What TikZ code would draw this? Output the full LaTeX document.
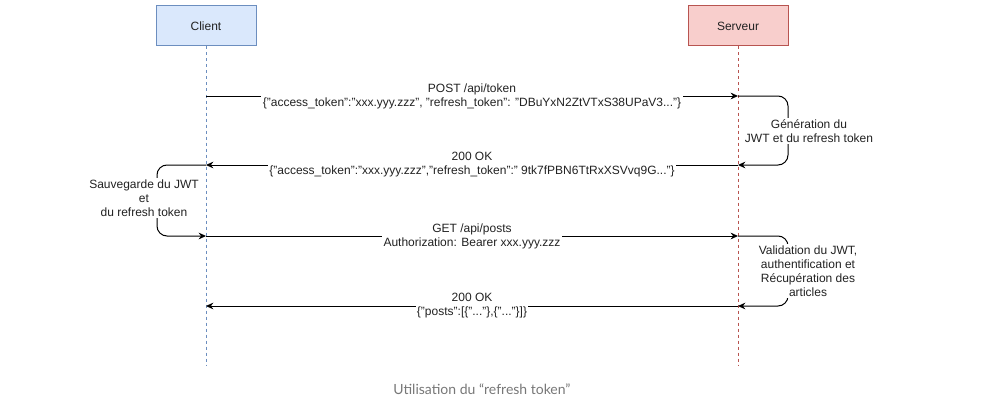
\documentclass[tikz,border=0pt]{standalone}
\usepackage{fontspec}
\setmainfont{Liberation Sans}
\newfontfamily\captionfont{Lato}
\usetikzlibrary{arrows.meta}
\definecolor{clientfill}{HTML}{DAE8FC}
\definecolor{clientline}{HTML}{6C8EBF}
\definecolor{serverfill}{HTML}{F8CECC}
\definecolor{serverline}{HTML}{B85450}
\definecolor{captiongray}{HTML}{777777}
\definecolor{labeltext}{HTML}{222222}
\tikzset{
    >={Stealth[length=5.5pt,width=5pt]},
    actor/.style={draw,rectangle,line width=0.75pt,minimum width=75pt,minimum height=30pt,text=labeltext,font=\fontsize{9}{10.5}\selectfont},
    lifeline/.style={dash pattern=on 2.25pt off 2.25pt,line width=0.75pt},
    msg/.style={->,line width=0.75pt},
    loopmsg/.style={->,line width=0.75pt,rounded corners=7.5pt},
    msglabel/.style={fill=white,align=center,text=labeltext,inner sep=1pt,font=\fontsize{9}{10.5}\selectfont},
}
\begin{document}
\begin{tikzpicture}[x=0.75pt,y=-0.75pt]
\useasboundingbox (0,0) rectangle (988,410);

% acteurs
\node[actor,fill=clientfill,draw=clientline] (client) at (206,26) {Client};
\node[actor,fill=serverfill,draw=serverline] (server) at (738,26) {Serveur};

% lignes de vie
\coordinate (clientend) at (206,365);
\coordinate (serverend) at (738,365);
\draw[lifeline,clientline] (client.south) -- (clientend);
\draw[lifeline,serverline] (server.south) -- (serverend);

% points sur les lignes de vie
\coordinate (c1) at (206,96);
\coordinate (s1) at (738,96);
\coordinate (s2) at (738,165);
\coordinate (c2) at (206,165);
\coordinate (c3) at (206,236);
\coordinate (s3) at (738,236);
\coordinate (s4) at (738,306);
\coordinate (c4) at (206,306);

% messages
\path (c1) edge[msg] node[msglabel] {POST /api/token\\\{"access\_token":"xxx.yyy.zzz", "refresh\_token": "DBuYxN2ZtVTxS38UPaV3..."\}} (s1)
      (s2) edge[msg] node[msglabel] {200 OK\\\{"access\_token":"xxx.yyy.zzz","refresh\_token":" 9tk7fPBN6TtRxXSVvq9G..."\}} (c2)
      (c3) edge[msg] node[msglabel] {GET /api/posts\\Authorization: Bearer xxx.yyy.zzz} (s3)
      (s4) edge[msg] node[msglabel] {200 OK\\\{"posts":[\{"..."\},\{"..."\}]\}} (c4);

% traitements
\draw[loopmsg] (s1) -- ++(50,0) -- ++(0,69) -- (s2);
\node[msglabel] (generation) at (809,131) {Génération du\\JWT et du refresh token};

\draw[loopmsg] (c2) -- ++(-49,0) -- ++(0,71) -- (c3);
\node[msglabel] (sauvegarde) at (144,198) {Sauvegarde du JWT\\et\\du refresh token};

\draw[loopmsg] (s3) -- ++(50,0) -- ++(0,70) -- (s4);
\node[msglabel] (validation) at (808,271) {Validation du JWT,\\authentification et\\Récupération des\\articles};

\node[text=captiongray,font=\captionfont\fontsize{10.5}{12}\selectfont] (caption) at (482,389) {Utilisation du “refresh token”};
\end{tikzpicture}
\end{document}
